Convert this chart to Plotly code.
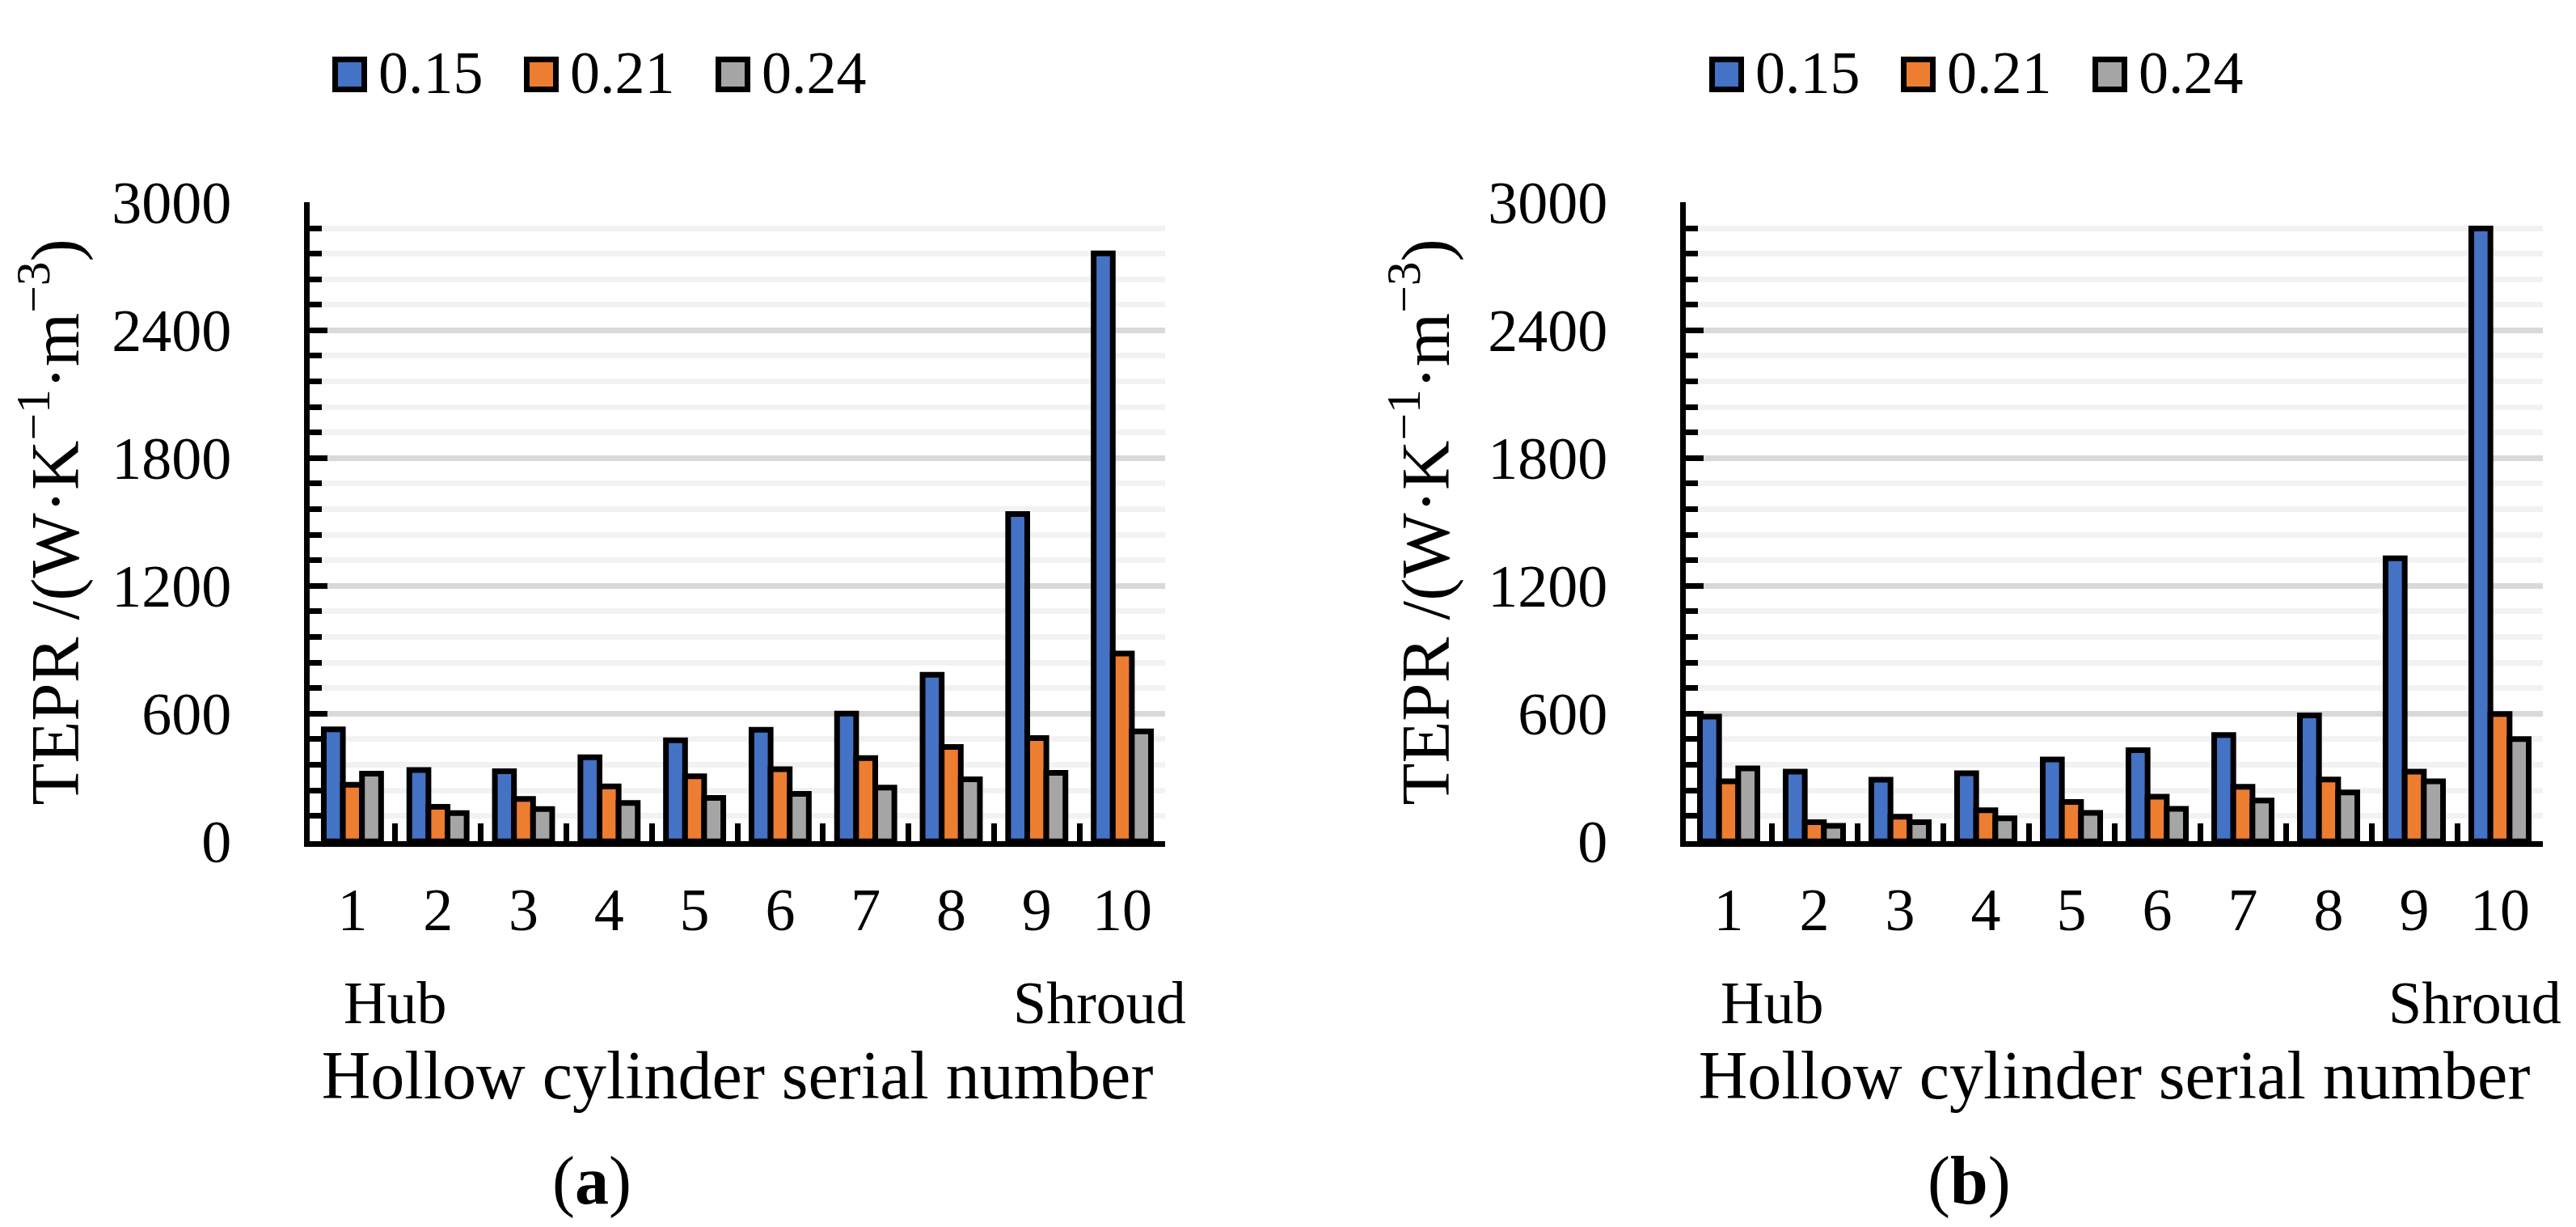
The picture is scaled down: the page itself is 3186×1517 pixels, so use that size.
import plotly.graph_objects as go

# ---------------- data ----------------
categories = ["1", "2", "3", "4", "5", "6", "7", "8", "9", "10"]
series_names = ["0.15", "0.21", "0.24"]
series_colors = ["#4472C4", "#ED7D31", "#A5A5A5"]

a_015 = [526, 335, 330, 395, 475, 524, 600, 783, 1537, 2761]
a_021 = [266, 163, 200, 258, 306, 339, 391, 444, 485, 882]
a_024 = [318, 133, 152, 181, 204, 223, 253, 292, 322, 517]

b_015 = [586, 328, 290, 320, 385, 428, 500, 592, 1329, 2878]
b_021 = [282, 90, 116, 146, 185, 210, 257, 291, 328, 598]
b_024 = [343, 73, 90, 108, 134, 153, 192, 230, 282, 481]

y_ticks = [0, 600, 1200, 1800, 2400, 3000]
y_minor_step = 120
y_title = "TEPR /(W·K<sup>−1</sup>·m<sup>−3</sup>)"
x_title = "Hollow cylinder serial number"
panel_labels = ["(<b>a</b>)", "(<b>b</b>)"]
end_labels = ["Hub", "Shroud"]

# ---------------- layout helpers ----------------
W, H = 3186, 1517
FONT = "Liberation Serif"


def px(x):
    return x / W


def py(y):
    return 1 - y / H


panels = [
    dict(values=[a_015, a_021, a_024], xa="x", ya="y", x0=375, x1=1433,
         leg_x=403, hub_x=415, shroud_x=1461, label_x=724),
    dict(values=[b_015, b_021, b_024], xa="x2", ya="y2", x0=2077, x1=3137,
         leg_x=2106, hub_x=2118, shroud_x=3162, label_x=2427),
]
y_top_px, y_bot_px = 242.4, 1032.3

fig = go.Figure()
for p in panels:
    for name, color, vals in zip(series_names, series_colors, p["values"]):
        fig.add_trace(go.Bar(
            x=categories, y=vals, name=name,
            marker=dict(color=color, line=dict(color="black", width=7)),
            xaxis=p["xa"], yaxis=p["ya"], showlegend=False,
        ))

TICK_SIZE = 74
TITLE_SIZE = 84
tickfont = dict(family=FONT, size=TICK_SIZE, color="black")


def xaxis_cfg(p):
    return dict(
        domain=[px(p["x0"]), px(p["x1"])], anchor=p["ya"],
        type="category", showline=True, linecolor="black", linewidth=7,
        ticks="inside", tickson="boundaries", ticklen=22, tickwidth=7, tickcolor="black",
        showgrid=False, zeroline=False, automargin=False,
        tickfont=tickfont, ticklabelstandoff=14,
        title=dict(text=x_title, font=dict(family=FONT, size=TITLE_SIZE, color="black"), standoff=137),
    )


def yaxis_cfg(p):
    return dict(
        domain=[py(y_bot_px), py(y_top_px)], anchor=p["xa"],
        range=[0, 3000], tickmode="array", tickvals=y_ticks,
        showline=True, linecolor="black", linewidth=7,
        ticks="inside", ticklen=22, tickwidth=7, tickcolor="black",
        showgrid=True, gridcolor="#D9D9D9", gridwidth=7, zeroline=False,
        minor=dict(tickmode="linear", tick0=0, dtick=y_minor_step, ticks="inside",
                   ticklen=15, tickwidth=7, tickcolor="black",
                   showgrid=True, gridcolor="#F2F2F2", gridwidth=7),
        automargin=False, tickfont=tickfont, ticklabelstandoff=75,
        title=dict(text=y_title, font=dict(family=FONT, size=85, color="black"), standoff=22),
    )


shapes = []
annotations = []
for p in panels:
    # legend drawn as swatches + labels (same series names / colours as the bars)
    for i, (name, color) in enumerate(zip(series_names, series_colors)):
        lx = p["leg_x"] + i * 237
        shapes.append(dict(type="rect", xref="paper", yref="paper",
                           x0=px(lx + 3.5), x1=px(lx + 39.5), y0=py(65.5), y1=py(102.5),
                           fillcolor=color, line=dict(color="black", width=7)))
        annotations.append(dict(text=name, xref="paper", yref="paper", x=px(lx + 55), y=py(82),
                                xanchor="left", yanchor="middle", showarrow=False,
                                font=dict(family=FONT, size=TICK_SIZE, color="black")))
    annotations.append(dict(text=end_labels[0], xref="paper", yref="paper", x=px(p["hub_x"]), y=py(1232),
                            xanchor="left", yanchor="middle", showarrow=False,
                            font=dict(family=FONT, size=TICK_SIZE, color="black")))
    annotations.append(dict(text=end_labels[1], xref="paper", yref="paper", x=px(p["shroud_x"]), y=py(1232),
                            xanchor="right", yanchor="middle", showarrow=False,
                            font=dict(family=FONT, size=TICK_SIZE, color="black")))

for lbl, p in zip(panel_labels, panels):
    annotations.append(dict(text=lbl, xref="paper", yref="paper", x=px(p["label_x"]), y=py(1452),
                            xanchor="center", yanchor="middle", showarrow=False,
                            font=dict(family=FONT, size=TITLE_SIZE, color="black")))

fig.update_layout(
    template="none",
    width=W, height=H,
    margin=dict(l=0, r=0, t=0, b=0),
    paper_bgcolor="white", plot_bgcolor="white",
    barmode="group", bargap=0.33, bargroupgap=0,
    showlegend=False,
    font=dict(family=FONT, color="black"),
    xaxis=xaxis_cfg(panels[0]), yaxis=yaxis_cfg(panels[0]),
    xaxis2=xaxis_cfg(panels[1]), yaxis2=yaxis_cfg(panels[1]),
    shapes=shapes, annotations=annotations,
)

fig.write_html("out.html")
